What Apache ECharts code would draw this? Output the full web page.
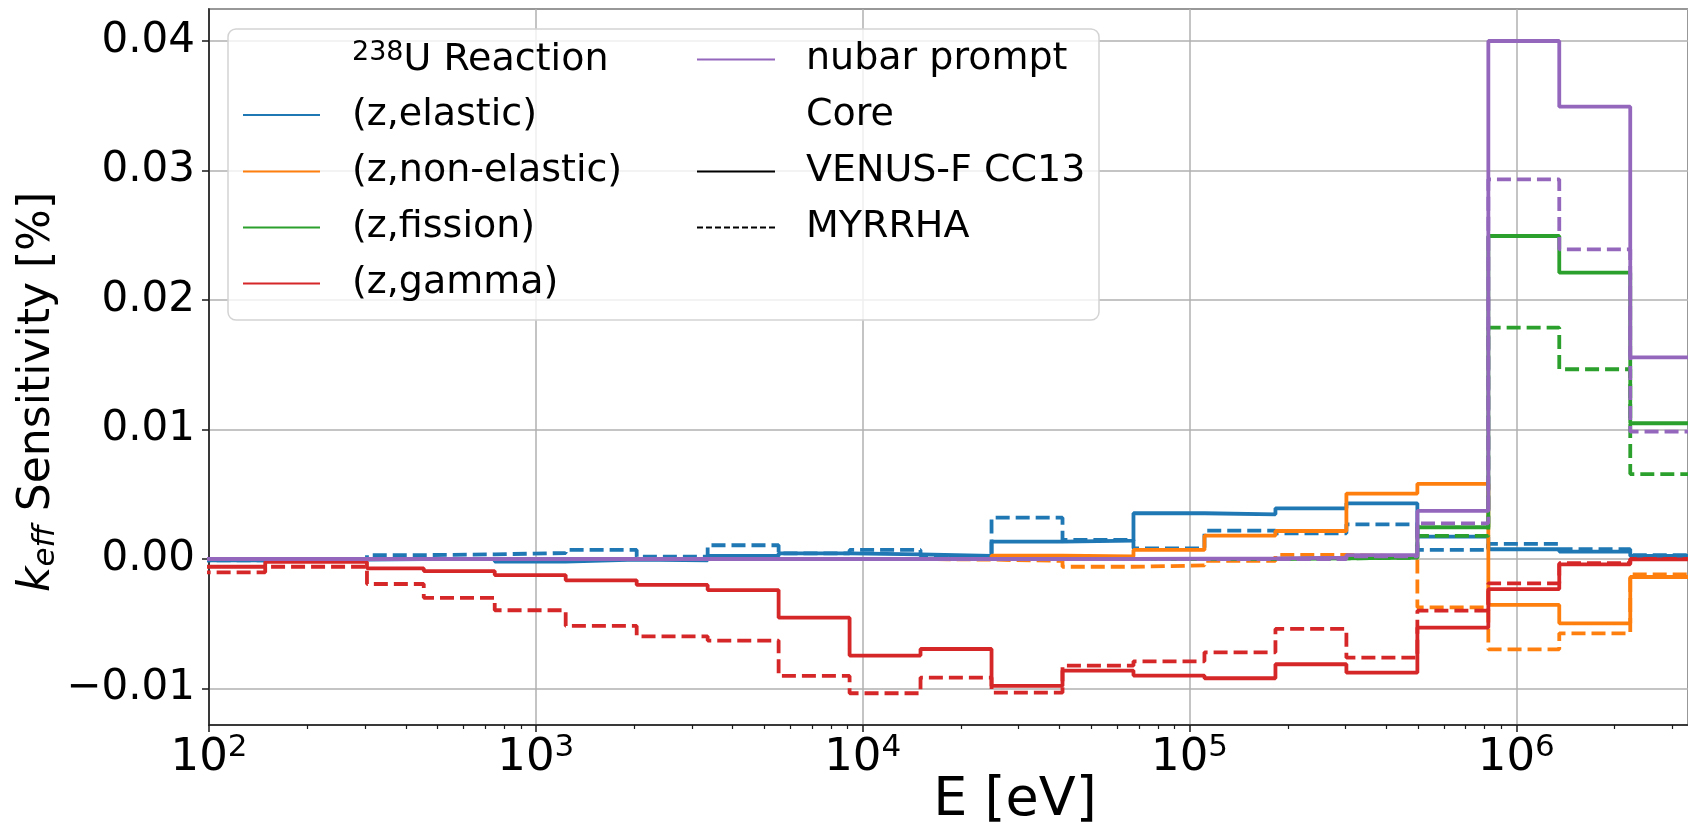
<!DOCTYPE html>
<html><head><meta charset="utf-8">
<script src="https://cdn.jsdelivr.net/npm/echarts@6/dist/echarts.min.js"></script>
<style>html,body{margin:0;padding:0;background:#fff}#c{width:1688px;height:826px}</style>
</head><body><div id="c"></div>
<script>
// ECCO-33 group lower edges (eV) visible in the window, last entry = upper edge of last bin
const energyEdges = [91.66, 148.6, 304.3, 454.0, 748.5, 1234, 2035, 3355, 5531, 9119, 15030, 24790, 40870, 67380, 111100, 183200, 302000, 497900, 820900, 1353000, 2231000, 3679000];

const elasticVenus   = [-0.0001, -0.00005, 0.0, 0.0, -0.0002, -0.00005, -0.0001, 0.00023, 0.00044, 0.00036, 0.00023, 0.00134, 0.00141, 0.00353, 0.00345, 0.00391, 0.0043, 0.00172, 0.00075, 0.00057, 0.00023];
const elasticMyrrha  = [-0.0001, 0.0, 0.0003, 0.00036, 0.00046, 0.0007, 0.00018, 0.00106, 0.00044, 0.0007, 0.00023, 0.00319, 0.00147, 0.00082, 0.00219, 0.00198, 0.00268, 0.0007, 0.00116, 0.00075, 0.0003];
const nonelVenus     = [0, 0, 0, 0, 0, 0, 0, 0, 0, 0, 0.00002, 0.00026, 0.0002, 0.0007, 0.0018, 0.00216, 0.00505, 0.0058, -0.00355, -0.00497, -0.00139];
const nonelMyrrha    = [0, 0, 0, 0, 0, 0, 0, 0, 0, 0, -0.00005, -0.00015, -0.0006, -0.0005, -0.00015, 0.00031, 0.00018, -0.00373, -0.00698, -0.00574, -0.0012];
const fissionVenus   = [0, 0, 0, 0, 0, 0, 0, 0, 0, 0, 0, 0, 0, 0, 0, 0.00005, 0.0001, 0.00245, 0.02494, 0.02211, 0.01048];
const fissionMyrrha  = [0, 0, 0, 0, 0, 0, 0, 0, 0, 0, 0, 0, 0, 0, 0, 0.00005, 0.0001, 0.00178, 0.01786, 0.01465, 0.00656];
const gammaVenus     = [-0.0006, -0.00023, -0.00072, -0.00093, -0.00124, -0.00165, -0.002, -0.0024, -0.00453, -0.00746, -0.00695, -0.0098, -0.00862, -0.009, -0.00921, -0.00813, -0.00878, -0.0053, -0.00232, -0.00041, -0.00003];
const gammaMyrrha    = [-0.00103, -0.0006, -0.00193, -0.003, -0.00396, -0.00517, -0.00597, -0.0063, -0.00903, -0.01037, -0.00916, -0.01032, -0.00824, -0.0079, -0.00721, -0.0054, -0.00762, -0.00399, -0.00188, -0.00033, 0.0];
const nubarVenus     = [0, 0, 0, 0, 0, 0, 0, 0, 0, 0, 0, 0, 0, 0.00003, 0.00005, 0.0001, 0.0003, 0.00371, 0.04, 0.03493, 0.01557];
const nubarMyrrha    = [0, 0, 0, 0, 0, 0, 0, 0, 0, 0, 0, 0, 0, 0, 0, 0, 0.0002, 0.00275, 0.02932, 0.02391, 0.00983];

const reactionNames = ['(z,elastic)', '(z,non-elastic)', '(z,fission)', '(z,gamma)', 'nubar prompt'];
const coreNames = ['VENUS-F CC13', 'MYRRHA'];
const colors = ['#1f77b4', '#ff7f0e', '#2ca02c', '#d62728', '#9467bd'];

const xMin = 100, xMax = 3351000;
const yMin = -0.01282, yMax = 0.04247;
const xMinorTicks = [200,300,400,500,600,700,800,900, 2000,3000,4000,5000,6000,7000,8000,9000,
  20000,30000,40000,50000,60000,70000,80000,90000, 200000,300000,400000,500000,600000,700000,800000,900000,
  2000000,3000000];

function stepData(vals) {
  const d = vals.map((v, i) => [energyEdges[i], v]);
  d.push([energyEdges[vals.length], vals[vals.length - 1]]);
  return d;
}

const pairs = [[elasticVenus, elasticMyrrha],[nonelVenus, nonelMyrrha],[fissionVenus, fissionMyrrha],[gammaVenus, gammaMyrrha],[nubarVenus, nubarMyrrha]];
const series = [];
pairs.forEach((p, r) => {
  p.forEach((vals, c) => {
    series.push({
      name: reactionNames[r] + ' ' + coreNames[c],
      type: 'line', step: 'end', symbol: 'none', showSymbol: false,
      xAxisIndex: 0, yAxisIndex: 0, clip: true, silent: true,
      lineStyle: { color: colors[r], width: 3.8, type: c === 0 ? 'solid' : [14, 6] },
      data: stepData(vals)
    });
  });
});

const FF = 'DejaVu Sans';
const gridPos = { left: 209, top: 9, right: -3, bottom: 101 };

const legendG = [];
legendG.push({ type: 'rect', shape: { x: 228, y: 29, width: 871, height: 291, r: 8 },
  style: { fill: 'rgba(255,255,255,0.8)', stroke: '#d3d3d3', lineWidth: 1.5 }, z: 100 });
const col1Y = [115, 171.5, 227.5, 283.5];
for (let i = 0; i < 4; i++) {
  legendG.push({ type: 'line', shape: { x1: 243, y1: col1Y[i], x2: 320, y2: col1Y[i] }, style: { stroke: colors[i], lineWidth: 2 }, z: 101 });
  legendG.push({ type: 'text', x: 352, y: col1Y[i], style: { text: reactionNames[i], font: '38px "DejaVu Sans"', fill: '#000', align: 'left', verticalAlign: 'middle' }, z: 101 });
}
legendG.push({ type: 'text', x: 352, y: 60, style: { text: '{s|238}{n|U Reaction}', rich: { s: { fontSize: 27, fontFamily: FF, fill: '#000', padding: [0, 0, 14, 0] }, n: { fontSize: 38, fontFamily: FF, fill: '#000' } }, align: 'left', verticalAlign: 'middle' }, z: 101 });
legendG.push({ type: 'line', shape: { x1: 697, y1: 59.5, x2: 775, y2: 59.5 }, style: { stroke: colors[4], lineWidth: 2 }, z: 101 });
legendG.push({ type: 'text', x: 806, y: 59.5, style: { text: reactionNames[4], font: '38px "DejaVu Sans"', fill: '#000', align: 'left', verticalAlign: 'middle' }, z: 101 });
legendG.push({ type: 'text', x: 806, y: 115, style: { text: 'Core', font: '38px "DejaVu Sans"', fill: '#000', align: 'left', verticalAlign: 'middle' }, z: 101 });
legendG.push({ type: 'line', shape: { x1: 697, y1: 171.5, x2: 775, y2: 171.5 }, style: { stroke: '#000', lineWidth: 2 }, z: 101 });
legendG.push({ type: 'text', x: 806, y: 171.5, style: { text: coreNames[0], font: '38px "DejaVu Sans"', fill: '#000', align: 'left', verticalAlign: 'middle' }, z: 101 });
legendG.push({ type: 'line', shape: { x1: 697, y1: 227.5, x2: 775, y2: 227.5 }, style: { stroke: '#000', lineWidth: 2, lineDash: [6, 3] }, z: 101 });
legendG.push({ type: 'text', x: 806, y: 227.5, style: { text: coreNames[1], font: '38px "DejaVu Sans"', fill: '#000', align: 'left', verticalAlign: 'middle' }, z: 101 });

// axis titles
legendG.push({ type: 'text', x: 1015, y: 801, style: { text: 'E [eV]', font: '54px "DejaVu Sans"', fill: '#000', align: 'center', verticalAlign: 'middle' }, z: 50 });
legendG.push({ type: 'text', x: 38, y: 392, rotation: Math.PI / 2,
  style: { text: '{k|k}{e|eff}{n| Sensitivity [%]}',
    rich: { k: { fontSize: 44, fontStyle: 'italic', fontFamily: FF, fill: '#000' },
            e: { fontSize: 31, fontStyle: 'italic', fontFamily: FF, fill: '#000', padding: [16, 0, 0, 0] },
            n: { fontSize: 44, fontFamily: FF, fill: '#000' } },
    align: 'center', verticalAlign: 'middle' }, z: 50 });

const chart = echarts.init(document.getElementById('c'), null, { renderer: 'canvas' });
chart.setOption({
  animation: false,
  backgroundColor: '#fff',
  grid: [Object.assign({ show: true, borderColor: '#1a1a1a', borderWidth: 1.5, backgroundColor: 'transparent' }, gridPos),
         Object.assign({ show: false }, gridPos)],
  xAxis: [{
    type: 'log', logBase: 10, min: xMin, max: xMax, gridIndex: 0, splitNumber: 5, position: 'bottom',
    axisLine: { show: true, onZero: false, lineStyle: { color: '#1a1a1a', width: 1.5 } },
    axisTick: { show: true, inside: false, length: 7, lineStyle: { color: '#1a1a1a', width: 1.5 } },
    splitLine: { show: true, lineStyle: { color: '#b0b0b0', width: 1.5 } },
    axisLabel: { show: true, margin: 7, showMaxLabel: false, showMinLabel: true, color: '#000',
      formatter: v => '{b|10}{s|' + Math.round(Math.log10(v)) + '}',
      rich: { b: { fontSize: 45, fontFamily: FF, color: '#000' }, s: { fontSize: 31, fontFamily: FF, color: '#000', padding: [0, 0, 22, 0] } } }
  }, {
    type: 'log', logBase: 10, min: xMin, max: xMax, gridIndex: 1, position: 'bottom',
    axisLine: { show: false, onZero: false }, splitLine: { show: false }, axisLabel: { show: false },
    axisTick: { show: true, inside: false, length: 4, customValues: xMinorTicks, lineStyle: { color: '#1a1a1a', width: 1.2 } }
  }],
  yAxis: [{
    type: 'value', min: yMin, max: yMax, splitNumber: 5, gridIndex: 0,
    axisLine: { show: true, onZero: false, lineStyle: { color: '#1a1a1a', width: 1.5 } },
    axisTick: { show: true, inside: false, length: 7, lineStyle: { color: '#1a1a1a', width: 1.5 } },
    splitLine: { show: true, lineStyle: { color: '#b0b0b0', width: 1.5 } },
    axisLabel: { show: true, margin: 14, showMinLabel: false, showMaxLabel: false, color: '#000', fontSize: 42, fontFamily: FF,
      formatter: v => (v < -1e-9 ? '\u2212' : '') + Math.abs(v).toFixed(2) }
  }, { type: 'value', min: yMin, max: yMax, gridIndex: 1, show: false }],
  series: series,
  graphic: legendG
});
</script></body></html>
